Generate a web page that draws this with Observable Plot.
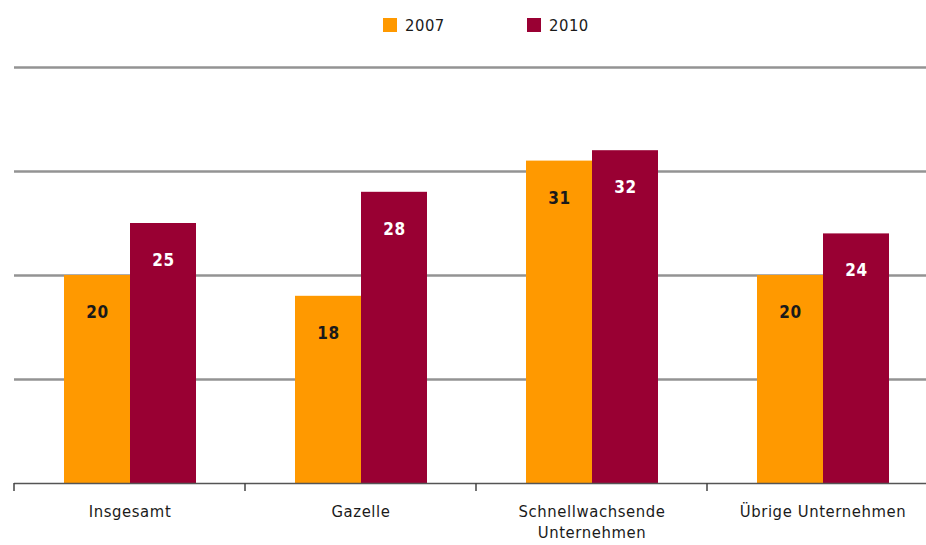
<!DOCTYPE html>
<html><head><meta charset="utf-8">
<script src="https://cdn.jsdelivr.net/npm/d3@7"></script>
<script src="https://cdn.jsdelivr.net/npm/@observablehq/plot@0.6"></script>
<style>
html,body{margin:0;padding:0;background:#fff;overflow:hidden;}
#legend{position:relative;height:50px;font-family:"DejaVu Sans Condensed","DejaVu Sans",sans-serif;font-size:16.5px;color:#1a1a1a;letter-spacing:0.5px;}
.item{position:absolute;top:16px;height:18px;display:flex;align-items:center;}
.item.a{left:383px;} .item.b{left:527px;}
.sw{width:14px;height:14px;margin-right:8px;}
#chart svg{display:block;}
</style></head><body>
<div id="legend"></div>
<div id="chart"></div>
<script>
const categories = ["Insgesamt", "Gazelle", "Schnellwachsende\nUnternehmen", "Übrige Unternehmen"];
const years = ["2007", "2010"];
const values2007 = [20, 18, 31, 20];
const values2010 = [25, 28, 32, 24];
const colors = ["#FF9900", "#990033"];
const gridValues = [10, 20, 30, 40];

const data = categories.flatMap((c, i) => [
  {cat: c, year: years[0], value: values2007[i]},
  {cat: c, year: years[1], value: values2010[i]}
]);

// legend
const legend = d3.select("#legend");
years.forEach((y, i) => {
  const it = legend.append("div").attr("class", "item " + (i === 0 ? "a" : "b"));
  it.append("div").attr("class", "sw").style("background", colors[i]);
  it.append("span").text(y);
});

const font = '"DejaVu Sans Condensed","DejaVu Sans",sans-serif';
const chart = Plot.plot({
  width: 926, height: 495,
  marginTop: 17, marginBottom: 62, marginLeft: 14, marginRight: -12,
  style: {fontFamily: font, background: "#fff", letterSpacing: "0.6px"},
  fx: {domain: categories, padding: 0, axis: null},
  x: {domain: years, paddingInner: 0, paddingOuter: 0.724, axis: null},
  y: {domain: [0, 40], axis: null},
  color: {domain: years, range: colors},
  marks: [
    Plot.ruleY(gridValues, {stroke: "#939393", strokeWidth: 2.5}),
    Plot.barY(data, {fx: "cat", x: "year", y: "value", fill: "year"}),
    Plot.ruleY([0], {stroke: "#555", strokeWidth: 1.5}),
    Plot.text(data.filter(d => d.year === years[0]), {fx: "cat", x: "year", y: "value", text: d => String(d.value), dy: 37, fill: "#1a1a1a", fontWeight: "bold", fontSize: 17}),
    Plot.text(data.filter(d => d.year === years[1]), {fx: "cat", x: "year", y: "value", text: d => String(d.value), dy: 37, fill: "#ffffff", fontWeight: "bold", fontSize: 17}),
    Plot.text(categories, {fx: d => d, text: d => d, frameAnchor: "bottom", lineAnchor: "top", dy: 18, fontSize: 16.5, lineHeight: 1.3, fill: "#1a1a1a"})
  ]
});
document.getElementById("chart").appendChild(chart);

// tick marks at group boundaries
const fx = chart.scale("fx");
const y0 = chart.scale("y").apply(0);
const svg = d3.select(chart);
categories.forEach(c => {
  const xx = fx.apply(c);
  svg.append("line").attr("x1", xx).attr("x2", xx).attr("y1", y0).attr("y2", y0 + 8)
    .attr("stroke", "#444").attr("stroke-width", 1.5);
});
</script>
</body></html>
